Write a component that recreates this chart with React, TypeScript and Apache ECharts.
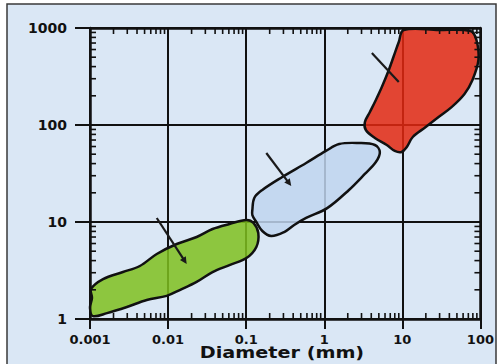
import React, { useEffect, useRef } from "react";
import * as echarts from "echarts";

// Axis tick labels (log decades)
const xTickLabels = ["0.001", "0.01", "0.1", "1", "10", "100"];
const yTickLabels = ["1", "10", "100", "1000"];
const xRange = [0.001, 100];
const yRange = [1, 1000];

// Minor (log) tick positions: multipliers within each decade
const minorSteps = [2, 3, 4, 5, 6, 7, 8, 9];
const xDecades = [0.001, 0.01, 0.1, 1, 10];
const yDecades = [1, 10, 100];

// Blob outlines: [diameter (mm), y value]
const greenBlob: [number, number][] = [
  [0.00109, 1.07], [0.001, 1.3], [0.00106, 1.65], [0.00103, 2.04], [0.00147, 2.58],
  [0.00264, 3.05], [0.00435, 3.52], [0.00716, 4.68], [0.0129, 5.93], [0.0232, 7.0],
  [0.0371, 8.47], [0.0611, 9.54], [0.1007, 10.5], [0.124, 9.77], [0.143, 7.7],
  [0.135, 5.53], [0.1007, 4.25], [0.0611, 3.6], [0.0371, 3.05], [0.0232, 2.41],
  [0.0141, 1.99], [0.00959, 1.73], [0.00533, 1.57], [0.00297, 1.33], [0.00165, 1.15],
];
const blueBlob: [number, number][] = [
  [0.12, 13.3], [0.127, 17.7], [0.161, 21.4], [0.29, 29.1], [0.586, 40.6],
  [1.05, 54.0], [1.55, 63.7], [2.78, 65.2], [4.45, 62.2], [5.15, 52.7],
  [4.58, 41.5], [3.31, 31.3], [2.07, 21.4], [1.09, 13.9], [0.586, 11.0],
  [0.412, 9.31], [0.307, 7.88], [0.209, 7.17], [0.161, 8.08], [0.135, 10.0],
  [0.12, 11.8],
];
const redBlob: [number, number][] = [
  [10.4, 953], [29.1, 953], [74.5, 931], [88.9, 752], [94.3, 468],
  [79.1, 291], [62.5, 209], [42.7, 153], [29.1, 121], [19.9, 95.3],
  [13.6, 75.2], [11.4, 59.3], [9.8, 52.7], [8.0, 54.0], [6.32, 62.2],
  [4.45, 73.5], [3.41, 88.8], [3.31, 107], [3.84, 136], [4.58, 181],
  [5.46, 246], [6.71, 369], [7.77, 514], [9.0, 717],
];

// Arrows: [x1, y1, x2, y2, hasHead]
const arrows: number[][] = [
  [0.00716, 11.0, 0.0173, 3.69, 1],
  [0.181, 51.4, 0.378, 23.5, 1],
  [4.07, 552, 9.0, 277, 0],
];

const BG = "#dae7f5";
const INK = "#111111";
const FONT = "'DejaVu Sans', sans-serif";

function blobSeries(points: [number, number][], fill: string) {
  return {
    type: "custom",
    coordinateSystem: "cartesian2d",
    clip: false,
    z: 3,
    data: points,
    encode: { x: 0, y: 1 },
    renderItem: (params: any, api: any) => {
      if (params.dataIndex !== 0) return null;
      const pts = points.map((p) => api.coord(p));
      return {
        type: "polygon",
        shape: { points: pts, smooth: 0.35 },
        style: { fill, stroke: INK, lineWidth: 2.5, lineJoin: "round" },
      };
    },
  };
}

export default function App() {
  const ref = useRef<HTMLDivElement>(null);
  useEffect(() => {
    if (!ref.current) return;
    const chart = echarts.init(ref.current, undefined, { renderer: "svg" });

    const xMinor: number[][] = [];
    xDecades.forEach((d) => minorSteps.forEach((m) => xMinor.push([d * m, yRange[0]])));
    const yMinor: number[][] = [];
    yDecades.forEach((d) => minorSteps.forEach((m) => yMinor.push([xRange[0], d * m])));

    const xLabel = (v: number) => xTickLabels[Math.round(Math.log10(v)) + 3] ?? "";
    const yLabel = (v: number) => yTickLabels[Math.round(Math.log10(v))] ?? "";

    const labelStyle = {
      color: INK,
      fontFamily: FONT,
      fontWeight: "bold" as const,
      fontSize: 14,
    };

    chart.setOption({
      animation: false,
      backgroundColor: "#ffffff",
      grid: { left: 90, right: 15, top: 28, bottom: 45 },
      graphic: [
        {
          type: "rect",
          z: -10,
          silent: true,
          shape: { x: 7, y: 4, width: 489, height: 370 },
          style: { fill: BG, stroke: "#3a3a3a", lineWidth: 1.5 },
        },
        {
          type: "text",
          x: 282,
          y: 353,
          scaleX: 1.2,
          z: 10,
          style: {
            text: "Diameter (mm)",
            fill: INK,
            font: `bold 16px ${FONT}`,
            textAlign: "center",
            textVerticalAlign: "middle",
            verticalAlign: "middle",
          },
        },
      ],
      xAxis: [
        {
          type: "log",
          logBase: 10,
          min: xRange[0],
          max: xRange[1],
          position: "bottom",
          axisLine: { show: true, lineStyle: { color: INK, width: 2.5 } },
          axisTick: { show: true, inside: false, length: 10, lineStyle: { color: INK, width: 2 } },
          axisLabel: { ...labelStyle, fontSize: 13, margin: 14, formatter: xLabel },
          splitLine: { show: true, lineStyle: { color: INK, width: 2 } },
        },
        {
          type: "log",
          logBase: 10,
          min: xRange[0],
          max: xRange[1],
          position: "top",
          axisLine: { show: true, lineStyle: { color: INK, width: 2.5 } },
          axisTick: { show: false },
          axisLabel: { show: false },
          splitLine: { show: false },
        },
      ],
      yAxis: [
        {
          type: "log",
          logBase: 10,
          min: yRange[0],
          max: yRange[1],
          position: "left",
          axisLine: { show: true, lineStyle: { color: INK, width: 2.5 } },
          axisTick: { show: true, inside: false, length: 15, lineStyle: { color: INK, width: 2 } },
          axisLabel: { ...labelStyle, margin: 23, formatter: yLabel },
          splitLine: { show: true, lineStyle: { color: INK, width: 2 } },
        },
        {
          type: "log",
          logBase: 10,
          min: yRange[0],
          max: yRange[1],
          position: "right",
          axisLine: { show: true, lineStyle: { color: INK, width: 2.5 } },
          axisTick: { show: false },
          axisLabel: { show: false },
          splitLine: { show: false },
        },
      ],
      series: [
        blobSeries(greenBlob, "rgba(127,192,31,0.85)"),
        blobSeries(blueBlob, "rgba(192,213,238,0.85)"),
        blobSeries(redBlob, "rgba(227,40,16,0.85)"),
        {
          type: "custom",
          coordinateSystem: "cartesian2d",
          clip: false,
          z: 4,
          data: xMinor,
          encode: { x: 0, y: 1 },
          renderItem: (params: any, api: any) => {
            const v = api.value(0);
            const b = api.coord([v, yRange[0]]);
            const t = api.coord([v, yRange[1]]);
            const ls = { stroke: INK, lineWidth: 1.6 };
            return {
              type: "group",
              children: [
                { type: "line", shape: { x1: b[0], y1: b[1], x2: b[0], y2: b[1] - 6 }, style: ls },
                { type: "line", shape: { x1: t[0], y1: t[1], x2: t[0], y2: t[1] + 6 }, style: ls },
              ],
            };
          },
        },
        {
          type: "custom",
          coordinateSystem: "cartesian2d",
          clip: false,
          z: 4,
          data: yMinor,
          encode: { x: 0, y: 1 },
          renderItem: (params: any, api: any) => {
            const v = api.value(1);
            const l = api.coord([xRange[0], v]);
            const r = api.coord([xRange[1], v]);
            const ls = { stroke: INK, lineWidth: 1.6 };
            return {
              type: "group",
              children: [
                { type: "line", shape: { x1: l[0], y1: l[1], x2: l[0] + 6, y2: l[1] }, style: ls },
                { type: "line", shape: { x1: r[0], y1: r[1], x2: r[0] - 6, y2: r[1] }, style: ls },
              ],
            };
          },
        },
        {
          type: "custom",
          coordinateSystem: "cartesian2d",
          clip: false,
          z: 5,
          data: arrows,
          encode: { x: 0, y: 1 },
          renderItem: (params: any, api: any) => {
            const p1 = api.coord([api.value(0), api.value(1)]);
            const p2 = api.coord([api.value(2), api.value(3)]);
            const head = api.value(4);
            const dx = p2[0] - p1[0];
            const dy = p2[1] - p1[1];
            const len = Math.sqrt(dx * dx + dy * dy) || 1;
            const ux = dx / len;
            const uy = dy / len;
            const hl = 7;
            const hw = 3.5;
            const children: any[] = [
              {
                type: "line",
                shape: { x1: p1[0], y1: p1[1], x2: p2[0] - (head ? ux * 4 : 0), y2: p2[1] - (head ? uy * 4 : 0) },
                style: { stroke: "#1a1a1a", lineWidth: 2.2 },
              },
            ];
            if (head) {
              const bx = p2[0] - ux * hl;
              const by = p2[1] - uy * hl;
              children.push({
                type: "polygon",
                shape: {
                  points: [
                    [p2[0], p2[1]],
                    [bx - uy * hw, by + ux * hw],
                    [bx + uy * hw, by - ux * hw],
                  ],
                },
                style: { fill: "#1a1a1a" },
              });
            }
            return { type: "group", children };
          },
        },
      ],
    });
    return () => chart.dispose();
  }, []);
  return (
    <div
      ref={ref}
      style={{ position: "fixed", left: 0, top: 0, width: 497, height: 364 }}
    />
  );
}
